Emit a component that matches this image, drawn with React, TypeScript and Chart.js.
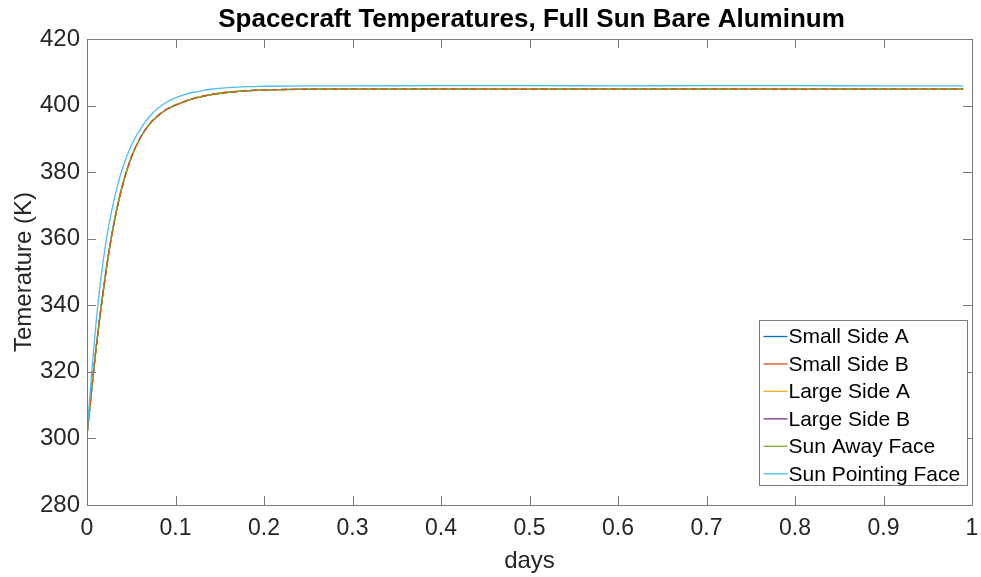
import React, { useEffect, useRef } from "react";
import { Chart, registerables } from "chart.js";

Chart.register(...registerables);

const TITLE = "Spacecraft Temperatures, Full Sun Bare Aluminum";
const X_TITLE = "days";
const Y_TITLE = "Temerature (K)";

const days = [0, 0.005, 0.01, 0.015, 0.02, 0.025, 0.03, 0.035, 0.04, 0.05, 0.06, 0.07, 0.08, 0.09, 0.1, 0.11, 0.12, 0.13, 0.14, 0.16, 0.18, 0.2, 0.25, 0.3, 0.4, 0.5, 0.6, 0.7, 0.8, 0.9, 0.99];

const smallSideA = [301, 313.9, 326.4, 337.4, 347.4, 356.4, 363.9, 370.4, 375.9, 384.4, 390.2, 394.2, 396.9, 398.8, 400.1, 401.2, 402.1, 402.7, 403.3, 404.0, 404.4, 404.7, 404.9, 405.0, 405.0, 405.0, 405.0, 405.0, 405.0, 405.0, 405.0];
const smallSideB = [301, 314, 326.5, 337.5, 347.5, 356.5, 364, 370.5, 376, 384.5, 390.3, 394.3, 397, 398.9, 400.2, 401.2, 402.1, 402.8, 403.3, 404.0, 404.4, 404.7, 404.9, 405.0, 405.0, 404.9, 405.0, 405.0, 404.9, 405.0, 405.0];
const largeSideA = [301.2, 314.2, 326.7, 337.7, 347.6, 356.6, 364.1, 370.6, 376.1, 384.5, 390.3, 394.3, 397, 398.9, 400.2, 401.2, 402.2, 402.8, 403.3, 404.0, 404.4, 404.7, 404.9, 405.0, 405.0, 405.0, 405.0, 405.0, 405.0, 405.0, 405.0];
const largeSideB = [301, 313.9, 326.4, 337.5, 347.4, 356.4, 364, 370.4, 375.9, 384.4, 390.2, 394.2, 396.9, 398.8, 400.1, 401.2, 402.1, 402.7, 403.3, 404.0, 404.4, 404.7, 404.9, 405.0, 405.0, 405.0, 405.0, 405.0, 405.0, 405.0, 405.0];
const sunAwayFace = [301.1, 314.1, 326.6, 337.6, 347.5, 356.5, 364, 370.5, 376, 384.4, 390.2, 394.2, 396.9, 398.8, 400.1, 401.2, 402.1, 402.7, 403.3, 404.0, 404.4, 404.7, 404.9, 405.0, 404.9, 405.0, 405.0, 404.9, 405.0, 405.0, 404.9];
const sunPointingFace = [301, 319, 334, 346.5, 356.5, 364.5, 371, 376.5, 381, 388, 392.8, 396.5, 399.2, 401, 402.3, 403.3, 404, 404.5, 404.9, 405.4, 405.7, 405.8, 405.9, 405.9, 406.0, 406.0, 405.9, 406.0, 406.0, 405.9, 405.9];

const seriesNames = ["Small Side A", "Small Side B", "Large Side A", "Large Side B", "Sun Away Face", "Sun Pointing Face"];
const seriesValues = [smallSideA, smallSideB, largeSideA, largeSideB, sunAwayFace, sunPointingFace];
const seriesColors = ["#0072BD", "#D95319", "#EDB120", "#7E2F8E", "#77AC30", "#4DBEEE"];
// draw order (higher = drawn earlier / below)
const seriesOrder = [6, 1, 3, 5, 2, 0];
const seriesDash = [[], [6, 4], [], [], [], []];

const FONT = '"Liberation Sans", Arial, Helvetica, sans-serif';
const AXIS_COLOR = "#7a7a7a";
const TEXT_COLOR = "#262626";

const matlabDecor = {
  id: "matlabDecor",
  afterDraw(chart: any) {
    const ctx = chart.ctx;
    const { left, right, top, bottom } = chart.chartArea;
    const xs = chart.scales.x;
    const ys = chart.scales.y;
    ctx.save();
    // box
    ctx.strokeStyle = AXIS_COLOR;
    ctx.lineWidth = 1;
    ctx.beginPath();
    ctx.rect(Math.round(left) + 0.5, Math.round(top) + 0.5, Math.round(right - left), Math.round(bottom - top));
    ctx.stroke();
    // inward ticks
    const tl = 9;
    ctx.beginPath();
    xs.ticks.forEach((t: any) => {
      const px = Math.round(xs.getPixelForValue(t.value)) + 0.5;
      ctx.moveTo(px, bottom);
      ctx.lineTo(px, bottom - tl);
      ctx.moveTo(px, top);
      ctx.lineTo(px, top + tl);
    });
    ys.ticks.forEach((t: any) => {
      const py = Math.round(ys.getPixelForValue(t.value)) + 0.5;
      ctx.moveTo(left, py);
      ctx.lineTo(left + tl, py);
      ctx.moveTo(right, py);
      ctx.lineTo(right - tl, py);
    });
    ctx.stroke();
    // title
    ctx.fillStyle = "#000";
    ctx.font = "bold 26px " + FONT;
    ctx.textAlign = "center";
    ctx.textBaseline = "alphabetic";
    ctx.fillText(TITLE, (left + right) / 2 + 2, 27);
    // legend
    const bx = Math.round(right - 213) + 0.5;
    const by = Math.round(bottom - 185) + 0.5;
    const bw = 208;
    const bh = 165;
    ctx.fillStyle = "#fff";
    ctx.fillRect(bx, by, bw, bh);
    ctx.strokeStyle = AXIS_COLOR;
    ctx.strokeRect(bx, by, bw, bh);
    ctx.font = "21px " + FONT;
    ctx.textAlign = "left";
    ctx.textBaseline = "middle";
    seriesNames.forEach((name, i) => {
      const cy = by + 16 + i * 27.45;
      ctx.strokeStyle = seriesColors[i];
      ctx.lineWidth = 1.3;
      ctx.beginPath();
      ctx.moveTo(bx + 4, cy);
      ctx.lineTo(bx + 28, cy);
      ctx.stroke();
      ctx.fillStyle = "#000";
      ctx.fillText(name, bx + 29, cy + 1);
    });
    ctx.restore();
  },
};

export default function App() {
  const ref = useRef<HTMLCanvasElement | null>(null);
  useEffect(() => {
    if (!ref.current) return;
    const chart = new Chart(ref.current, {
      type: "line",
      data: {
        datasets: seriesNames.map((name, i) => ({
          label: name,
          data: days.map((d, j) => ({ x: d, y: seriesValues[i][j] })),
          borderColor: seriesColors[i],
          backgroundColor: seriesColors[i],
          borderWidth: 1.3,
          borderDash: seriesDash[i],
          pointRadius: 0,
          cubicInterpolationMode: "monotone",
          order: seriesOrder[i],
          fill: false,
        })),
      },
      options: {
        responsive: false,
        animation: false,
        layout: { padding: { left: 0, right: 9, top: 39, bottom: 0 } },
        plugins: {
          legend: { display: false },
          title: { display: false },
          tooltip: { enabled: false },
        },
        scales: {
          x: {
            type: "linear",
            min: 0,
            max: 1,
            grid: { display: false, drawTicks: false },
            border: { display: false },
            ticks: {
              stepSize: 0.1,
              padding: 10,
              color: TEXT_COLOR,
              font: { family: FONT, size: 23 },
              maxRotation: 0,
              callback: (v: any) => String(Number(Number(v).toFixed(1))),
            },
            title: {
              display: true,
              text: X_TITLE,
              color: TEXT_COLOR,
              font: { family: FONT, size: 24 },
              padding: { top: 0, bottom: 1 },
            },
            afterFit: (s: any) => {
              s.height = 72;
              s.paddingLeft = 0;
              s.paddingRight = 0;
            },
          },
          y: {
            type: "linear",
            min: 280,
            max: 420,
            grid: { display: false, drawTicks: false },
            border: { display: false },
            ticks: {
              stepSize: 20,
              padding: 7,
              color: TEXT_COLOR,
              font: { family: FONT, size: 24 },
            },
            title: {
              display: true,
              text: Y_TITLE,
              color: TEXT_COLOR,
              font: { family: FONT, size: 24 },
              padding: { top: 10, bottom: 0 },
            },
            afterFit: (s: any) => {
              s.width = 87;
              s.paddingTop = 0;
              s.paddingBottom = 0;
            },
          },
        },
      },
      plugins: [matlabDecor],
    });
    return () => chart.destroy();
  }, []);
  return (
    <div style={{ position: "absolute", left: 0, top: 0, width: 981, height: 577, background: "#fff" }}>
      <canvas ref={ref} width={981} height={577} style={{ display: "block" }} />
    </div>
  );
}
